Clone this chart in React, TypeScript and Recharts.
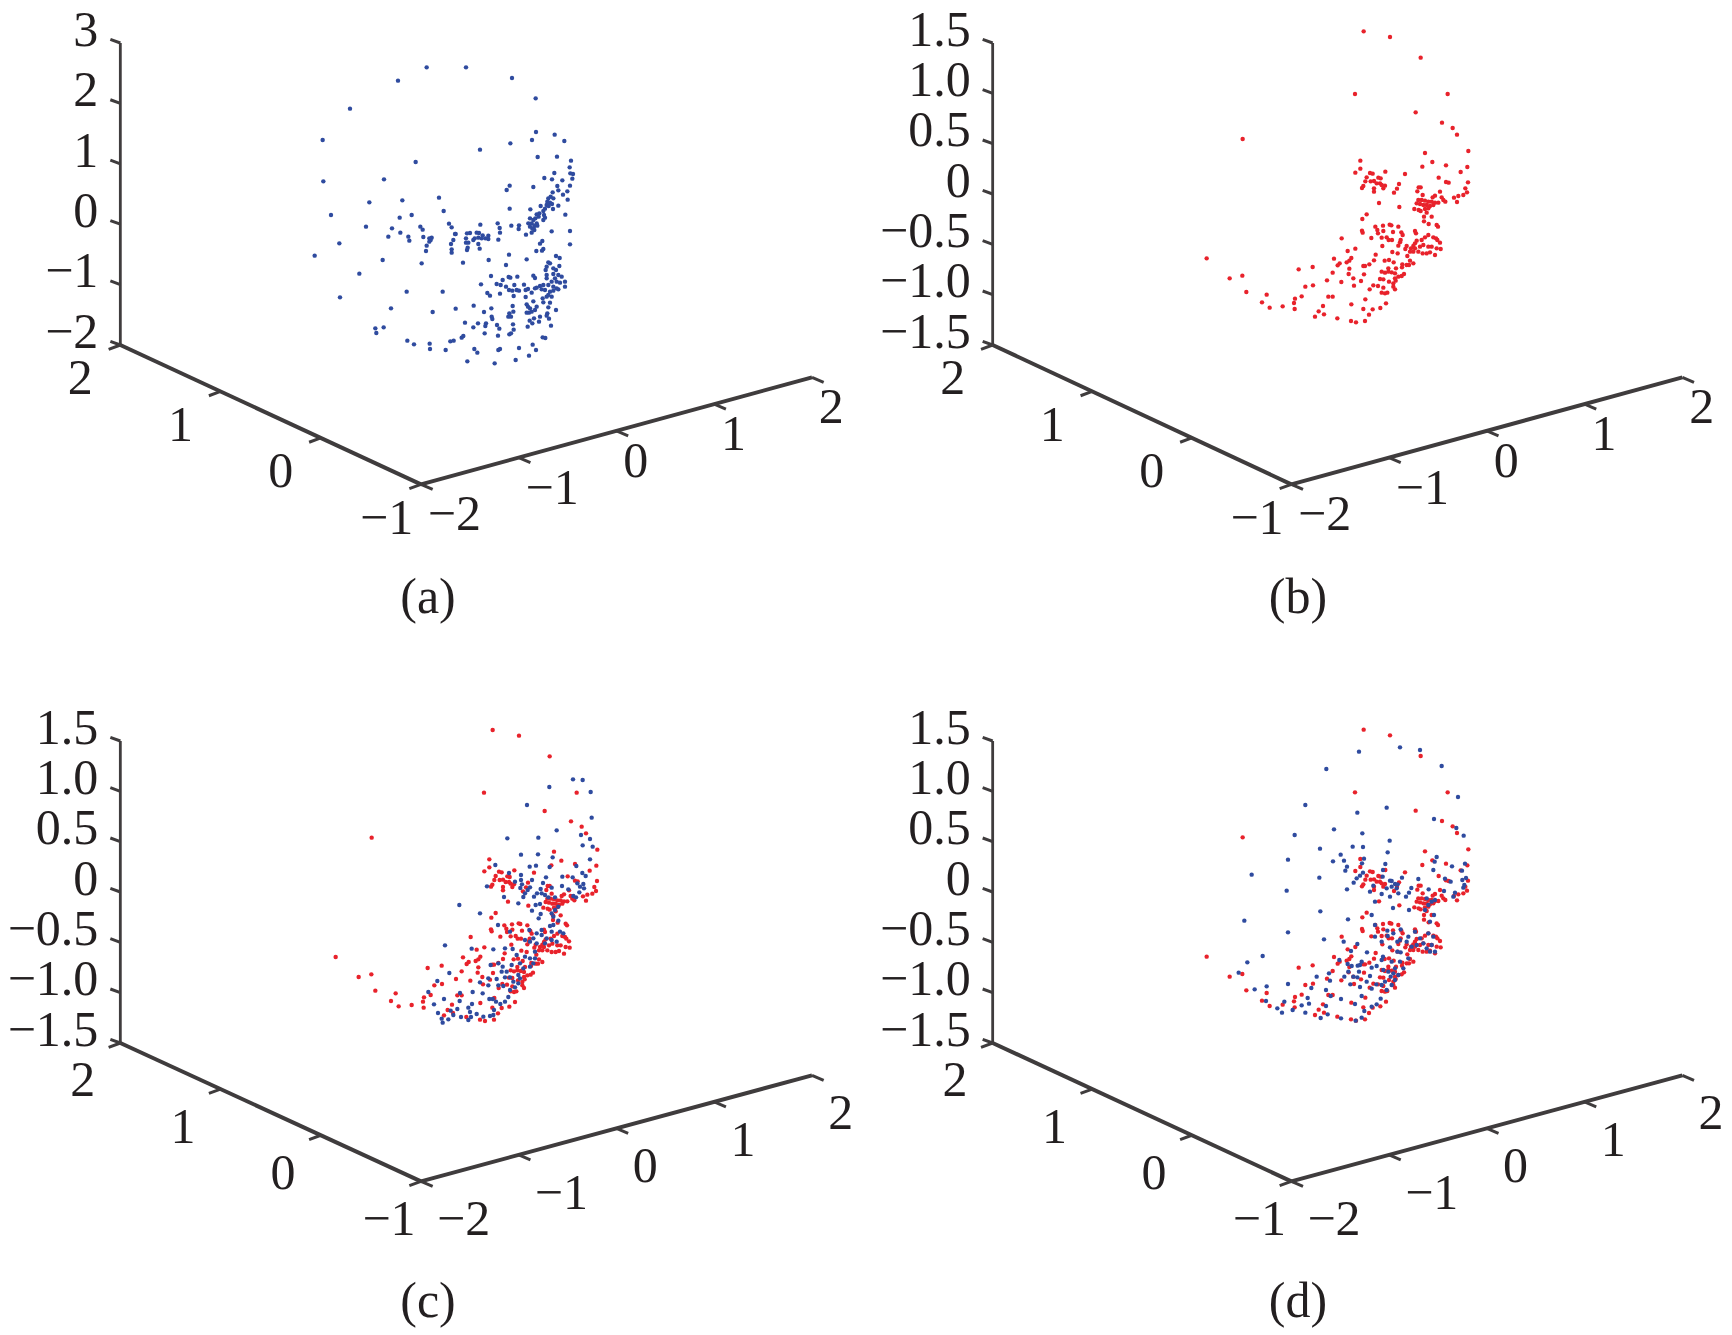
import { ScatterChart, Scatter, XAxis, YAxis, ReferenceLine, ReferenceDot } from "recharts";

const pointsA = [
  [380,52],[498,52],[636,84],[294,92],[707,145],[150,176],[708,246],[764,254],[696,270],[793,273],[68,270],[631,280],[540,299],[347,336],[713,321],[771,320],[813,332],[809,352],[811,370],[819,372],[817,386],[70,394],[252,388],[733,384],[756,388],[787,391],[763,369],[810,407],[772,408],[775,421],[802,424],[700,411],[629,407],[620,420],[758,427],[789,434],[803,449],[417,443],[307,451],[208,457],[431,483],[629,476],[691,478],[775,467],[759,477],[796,494],[93,495],[335,495],[299,503],[198,530],[276,535],[301,548],[265,560],[325,560],[328,572],[361,530],[368,539],[370,561],[447,521],[455,532],[541,524],[593,520],[599,534],[600,548],[595,569],[634,527],[657,526],[656,537],[678,554],[755,544],[810,543],[810,583],
  [745,445],[752,440],[760,445],[742,455],[750,458],[756,462],[740,465],[746,468],[722,468],[735,476],[730,483],[718,490],[710,493],[732,495],[735,503],[730,510],[716,500],[706,505],[690,505],[700,510],[685,520],[695,520],[710,520],[703,528],[712,527],[690,530],[697,536],[703,540],[695,548],
  [467,552],[465,552],[501,550],[510,549],[530,548],[537,549],[548,556],[565,557],[565,567],[498,565],[520,570],[524,565],[535,563],[545,565],[556,565],[460,570],[498,578],[505,578],[535,582],[539,596],[503,593],[501,600],[453,582],[455,598],[455,608],[388,565],[395,563],[392,570],[388,575],[380,587],[378,603],[365,640],[248,630],[118,580],[44,617],[178,671],[120,742],[320,725],[428,725],[489,638],[566,630],[627,614],[618,645],[680,628],[720,581],[727,573],[730,597],[726,602],[709,603],[768,618],[779,624],
  [745,637],[750,640],[740,650],[737,660],[760,655],[768,660],[778,648],[775,675],[785,680],[740,675],[740,685],[760,672],[765,685],[755,695],[770,695],[780,698],[795,695],[795,710],[700,677],[705,684],[760,710],[770,715],[745,705],[730,705],[720,708],[710,713],[705,715],[725,718],[735,720],[750,725],[760,722],[775,718],[745,735],[740,740],[755,740],[750,758],[728,745],[730,757],[700,754],
  [573,678],[626,681],[631,683],[652,680],[608,690],[590,702],[602,705],[618,710],[643,705],[672,704],[543,703],[627,720],[637,722],[650,720],[657,722],[677,720],[684,717],[695,728],[562,729],[570,737],[600,731],[641,738],[677,741],[521,767],[467,776],[398,786],[273,775],[574,775],[638,768],[680,763],[684,770],[552,786],[628,790],[640,785],[575,800],[577,807],[625,800],[633,800],[690,775],[710,770],[705,780],[695,785],[680,788],[687,788],[745,772],[768,780],[742,790],[740,797],[747,806],[720,800],[702,805],[689,812],[697,820],[717,815],[683,830],[753,827],[495,818],[534,820],[520,832],[558,820],[556,828],[591,825],[598,836],[639,823],[641,839],[554,850],[633,850],[628,853],[594,857],[226,835],[229,849],[251,832],[322,872],[342,883],[389,881],[390,897],[437,900],[451,874],[461,872],[485,863],[490,858],[523,897],[532,908],[595,900],[600,897],[657,894],[698,884],[708,900],[687,917],[647,930],[584,940],[502,934],[728,862],[736,864],
];

const pointsRed = [
  [641,34],[720,51],[812,113],[615,222],[893,222],[797,277],[876,308],[908,324],[921,344],[278,357],[955,393],[825,399],[847,426],[817,440],[888,436],[952,441],[932,456],[631,422],[631,446],[616,458],[706,455],[765,462],[866,473],[888,486],[896,488],[954,487],[946,505],[951,517],[940,525],[925,528],[912,533],[921,546],
  [660,459],[668,461],[650,472],[685,473],[692,475],[646,484],[662,484],[672,483],[680,490],[690,490],[695,495],[705,497],[640,498],[636,504],[672,505],[672,515],[700,505],[747,492],[741,506],[732,518],
  [806,502],[812,502],[802,514],[870,515],[818,525],[855,527],[848,532],[875,532],[880,540],[886,545],[805,540],[815,540],[825,542],[835,545],[845,545],[855,548],[865,548],[800,550],[810,552],[820,555],[830,555],[840,558],[850,555],[793,567],[806,570],[812,573],[825,567],[835,565],[830,578],[822,590],[845,590],[822,604],[836,612],[860,615],[864,620],[687,549],[748,561],[650,583],[637,597],
  [676,620],[682,630],[699,617],[719,614],[724,616],[745,620],[700,633],[729,636],[754,637],[758,645],[636,632],[638,638],[684,640],[664,654],[695,653],[710,652],[716,660],[726,660],[752,660],[750,667],[745,677],[697,678],[575,655],[795,633],[798,640],
  [835,645],[850,652],[858,655],[862,660],[870,668],[825,652],[815,660],[800,662],[795,670],[790,678],[770,678],[766,687],[783,685],[795,685],[810,680],[820,675],[835,680],[845,680],[860,685],[872,687],[780,695],[790,695],[805,695],[818,700],[830,700],[840,697],[855,705],[772,708],[727,696],[743,700],[616,686],[593,693],[677,704],[552,716],[604,714],[598,722],[590,727],[672,721],[704,722],[717,720],[731,727],[780,722],[770,735],[757,733],[756,742],[790,730],[777,735],[569,730],[563,736],[640,738],[645,738],[658,733],[488,741],[446,748],[598,746],
  [695,755],[705,758],[715,755],[725,757],[738,745],[735,760],[745,770],[755,768],[762,762],[715,745],[735,775],[690,777],[700,778],[717,785],[730,790],[737,782],[730,800],[735,808],[700,803],[684,798],[670,796],[659,808],[695,818],[705,820],[712,818],[548,758],[596,762],[642,763],[610,775],[633,783],[574,786],[531,781],[489,796],[466,800],[612,797],[289,816],[239,775],[277,767],[170,715],[350,824],[336,847],[359,863],[398,859],[435,836],[432,849],[434,867],[455,829],[535,830],[548,830],[646,838],[708,850],[604,853],[519,858],[506,874],[495,890],[522,883],[562,895],[603,903],[618,907],[645,903],[657,884],[640,867],[668,868],[691,864],
];

const pointsCTop = [
  [459,28],[488,30],[388,51],[512,66],[321,105],[515,143],[410,181],[483,195],[262,205],[355,203],[510,207],[488,226],[518,230],[303,254],[354,253],[398,262],[510,268],[226,285],[329,290],[348,287],[389,291],[469,288],[487,309],[497,318],[267,309],[303,315],[303,330],[378,322],[427,320],[458,322],[336,330],[306,343],[285,335],[201,349],[301,354],[369,339],[395,353],[426,348],[472,340],[490,342],[480,350],[492,355],[362,357],[330,352],[323,360],[315,370],[351,370],[478,367],[252,381],[310,381],[342,380],[365,370],[375,375],[385,382],[405,382],[445,358],[460,378],[468,382],
];

const pointsCBottom = [
  [118,15],[295,10],[336,32],[347,15],[360,12],[180,40],[362,42],[356,55],[395,40],[405,30],[415,20],[400,50],[415,62],[400,75],[390,78],[234,75],[270,95],[328,90],[365,90],[350,100],[340,115],[330,125],[315,120],[365,105],[395,95],[420,95],[430,100],[380,115],[395,120],[410,125],[350,130],[375,130],[75,136],[155,146],[220,148],[255,145],[278,147],[345,155],[290,165],[315,170],[330,175],[345,175],[300,190],[212,195],[235,190],[248,200],[275,195],[260,215],[245,215],[340,190],[330,200],[310,205],[88,219],[205,235],[230,237],[255,232],[270,232],[52,243],[180,247],[205,256],[235,256],[250,258],[280,245],[295,250],[300,235],[25,276],[120,279],[158,276],[188,280],[72,297],[119,303],[208,297],[218,297],[228,305],[241,312],[255,305],[265,291],[42,313],[156,312],[145,323],[112,327],[150,336],[92,332],[54,339],[100,345],[170,342],[222,330],[153,351],[123,351],[65,356],[85,358],[145,360],[68,368],[190,350],[210,348],[220,345],[270,270],[285,262],[295,225],
];

const pointsDTop = [
  [495,22],[555,30],[372,35],[620,78],[274,87],[669,171],[211,195],[455,203],[367,218],[597,237],[297,268],[664,264],[382,280],[179,285],[686,287],[464,302],[353,320],[384,321],[255,326],[458,337],[317,344],[159,359],[294,364],[327,362],[387,356],[381,370],[605,351],[451,372],[599,365],[690,371],[336,380],[331,392],[651,379],[595,390],[444,390],[681,392],[50,404],[253,413],[384,398],[375,407],[365,415],[356,428],[501,413],[550,417],[630,416],[647,425],[682,420],[693,414],[688,435],[415,437],[443,410],[465,422],[470,423],[480,432],[488,433],[470,440],[455,445],[336,448],[485,445],[529,444],[581,448],[155,452],[685,443],
];

const pointsDBottom = [
  [405,5],[420,35],[440,12],[465,20],[490,10],[522,8],[513,20],[474,54],[522,60],[627,3],[655,20],[660,8],[580,45],[590,35],[575,25],[600,30],[570,60],[597,75],[585,95],[410,75],[256,64],[339,88],[28,92],[159,127],[267,148],[326,155],[420,105],[457,122],[497,118],[475,130],[520,140],[440,155],[487,155],[495,150],[420,140],[458,138],[540,125],[580,130],[595,140],[555,145],[515,155],[530,170],[545,165],[565,160],[575,175],[590,165],[600,185],[585,185],[465,172],[487,185],[497,187],[367,162],[348,183],[396,187],[444,200],[83,198],[37,217],[11,248],[313,210],[338,222],[350,228],[368,227],[380,215],[375,225],[410,233],[425,228],[440,210],[445,240],[470,215],[495,215],[520,205],[505,235],[340,245],[372,245],[282,250],[245,260],[285,272],[328,260],[355,260],[367,262],[395,275],[405,258],[460,245],[475,250],[490,255],[480,270],[470,285],[455,300],[440,285],[424,283],[410,296],[375,291],[346,283],[159,282],[95,289],[59,298],[229,294],[273,300],[287,318],[93,333],[148,335],[218,324],[318,327],[380,318],[437,326],[425,343],[410,350],[360,342],[388,363],[222,341],[200,346],[173,360],[127,355],[141,368],[211,368],[273,348],[278,373],[257,384],[318,385],[380,383],[362,392],[467,260],[480,235],[450,275],
];

const zTicksA = ["−2", "−1", "0", "1", "2", "3"];
const zTicksRest = ["−1.5", "−1.0", "−0.5", "0", "0.5", "1.0", "1.5"];
const yTicks = ["2", "1", "0", "−1"];
const xTicks = ["−2", "−1", "0", "1", "2"];

const BLUE = "#2f4b9f";
const RED = "#e8222b";
const AXIS = "#3f3c3d";
const TEXT = "#231f20";
const FONT = '"Liberation Serif", "Times New Roman", serif';

const shift = (list: number[][], dx: number, dy: number) => list.map(([x, y]) => ({ x: x + dx, y: y + dy }));

const panels = [
  {
    left: 0, top: 0, caption: "(a)", captionX: 1284, captionY: 1786, zTicks: zTicksA,
    zx: 361, ztop: 129, zbottom: 1035, corner: [1263, 1453], end: [2436, 1132], leftOff: [-120, 95], rightOff: [58, 85],
    series: [{ data: shift(pointsA, 900, 150), color: BLUE }],
  },
  {
    left: 866, top: 0, caption: "(b)", captionX: 1296, captionY: 1786, zTicks: zTicksRest,
    zx: 380, ztop: 129, zbottom: 1035, corner: [1276, 1453], end: [2449, 1132], leftOff: [-120, 95], rightOff: [58, 85],
    series: [{ data: shift(pointsRed, 852, 60), color: RED }],
  },
  {
    left: 0, top: 695, caption: "(c)", captionX: 1284, captionY: 1814, zTicks: zTicksRest,
    zx: 361, ztop: 138, zbottom: 1044, corner: [1263, 1459], end: [2436, 1141], leftOff: [-113, 107], rightOff: [86, 108],
    series: [
      { data: shift(pointsRed, 837, 71), color: RED },
      { data: [...shift(pointsCTop, 1260, 225), ...shift(pointsCBottom, 1260, 615)], color: BLUE },
    ],
  },
  {
    left: 866, top: 695, caption: "(d)", captionX: 1296, captionY: 1814, zTicks: zTicksRest,
    zx: 380, ztop: 138, zbottom: 1044, corner: [1276, 1459], end: [2449, 1141], leftOff: [-113, 107], rightOff: [86, 108],
    series: [
      { data: shift(pointsRed, 852, 70), color: RED },
      { data: [...shift(pointsDTop, 1107, 135), ...shift(pointsDBottom, 1107, 585)], color: BLUE },
    ],
  },
];

const segment = (key: string, x1: number, y1: number, x2: number, y2: number, width: number) => (
  <ReferenceLine
    key={key}
    segment={[{ x: x1, y: y1 }, { x: x2, y: y2 }]}
    stroke={AXIS}
    strokeWidth={width}
    ifOverflow="visible"
  />
);

const textLabel = (key: string, x: number, y: number, value: string, position: string) => (
  <ReferenceDot
    key={key}
    x={x}
    y={y}
    r={0}
    fill="none"
    stroke="none"
    ifOverflow="visible"
    label={{ value, position, offset: 0, fontSize: 50, fontFamily: FONT, fill: TEXT }}
  />
);

const Dot = ({ cx, cy, fill }: any) => <circle cx={cx} cy={cy} r={2.2} fill={fill} />;

const Panel = ({ p }: any) => {
  const [cx, cy] = p.corner;
  const [ex, ey] = p.end;
  const zStep = (p.zbottom - p.ztop) / (p.zTicks.length - 1);
  const leftStep = [(cx - p.zx) / (yTicks.length - 1), (cy - p.zbottom) / (yTicks.length - 1)];
  const rightStep = [(ex - cx) / (xTicks.length - 1), (ey - cy) / (xTicks.length - 1)];

  return (
    <div style={{ position: "absolute", left: p.left, top: p.top }}>
      <ScatterChart width={866} height={640} margin={{ top: 0, right: 0, bottom: 0, left: 0 }}>
        <XAxis type="number" dataKey="x" domain={[0, 2598]} hide />
        <YAxis type="number" dataKey="y" domain={[0, 1920]} reversed hide />

        {segment("z", p.zx, p.ztop, p.zx, p.zbottom, 2.8)}
        {segment("left", p.zx, p.zbottom, cx, cy, 4)}
        {segment("right", cx, cy, ex, ey, 4)}

        {p.zTicks.map((t: string, i: number) => {
          const y = p.zbottom - i * zStep;
          return [
            segment(`zt${i}`, p.zx - 30, y - 11, p.zx, y, 3),
            textLabel(`zl${i}`, p.zx - 66, y - 45, t, "left"),
          ];
        })}
        {yTicks.map((t, i) => {
          const x = p.zx + i * leftStep[0];
          const y = p.zbottom + i * leftStep[1];
          return [
            segment(`yt${i}`, x - 35, y + 13, x, y, 3),
            textLabel(`yl${i}`, x + p.leftOff[0] + (t.length > 1 ? 17 : 0), y + p.leftOff[1], t, "center"),
          ];
        })}
        {xTicks.map((t, i) => {
          const x = cx + i * rightStep[0];
          const y = cy + i * rightStep[1];
          return [
            segment(`xt${i}`, x, y, x + 35, y + 15, 3),
            textLabel(`xl${i}`, x + p.rightOff[0] + (t.length > 1 ? 42 : 0), y + p.rightOff[1], t, "center"),
          ];
        })}
        {textLabel("caption", p.captionX, p.captionY, p.caption, "center")}

        {p.series.map((s: any, i: number) => (
          <Scatter key={i} data={s.data} fill={s.color} shape={<Dot />} isAnimationActive={false} />
        ))}
      </ScatterChart>
    </div>
  );
};

export default function App() {
  return (
    <div style={{ position: "absolute", left: 0, top: 0, width: 1732, height: 1335, background: "#fff" }}>
      {panels.map((p) => (
        <Panel key={p.caption} p={p} />
      ))}
    </div>
  );
}
